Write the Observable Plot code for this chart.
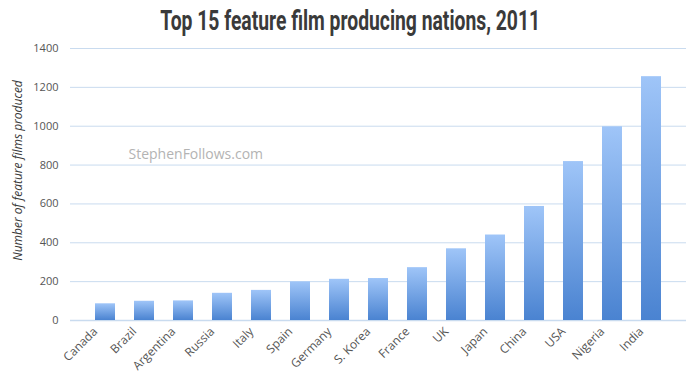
<!DOCTYPE html>
<html>
<head>
<meta charset="utf-8">
<script src="https://cdn.jsdelivr.net/npm/d3@7"></script>
<script src="https://cdn.jsdelivr.net/npm/@observablehq/plot@0.6"></script>
<style>
  html, body { margin: 0; padding: 0; background: #fff; }
  #wrap { width: 700px; height: 382px; overflow: hidden; }
  #title { height: 40px; line-height: 42px; text-align: center; color: #3a3a3a; }
  #title span { display: inline-block; font-family: "Liberation Sans Narrow", "Roboto", sans-serif; font-weight: bold; font-size: 28px; transform: scaleX(0.69); transform-origin: center; white-space: nowrap; }
</style>
</head>
<body>
<div id="wrap">
  <div id="title"><span>Top 15 feature film producing nations, 2011</span></div>
  <div id="chart"></div>
</div>
<script>
const countries = ["Canada","Brazil","Argentina","Russia","Italy","Spain","Germany","S. Korea","France","UK","Japan","China","USA","Nigeria","India"];
const films = [86, 99, 101, 140, 155, 199, 212, 216, 272, 369, 440, 587, 818, 997, 1255];
const yTicks = [0, 200, 400, 600, 800, 1000, 1200, 1400];
const yLabel = "Number of feature films produced";
const watermark = "StephenFollows.com";

const data = countries.map((c, i) => ({country: c, value: films[i]}));

const chart = Plot.plot({
  width: 700,
  height: 342,
  marginTop: 8,
  marginBottom: 62,
  marginLeft: 70,
  marginRight: 14,
  style: {fontFamily: "'Open Sans', sans-serif", fontSize: "11px", color: "#555", background: "#fff", overflow: "visible"},
  x: {domain: countries, padding: 0.5, label: null},
  y: {domain: [0, 1400], label: null},
  marks: [
    Plot.gridY(yTicks, {stroke: "#c9dbef", strokeOpacity: 1, strokeWidth: 1}),
    Plot.ruleY([0], {stroke: "#c9dbef", strokeWidth: 1.5}),
    Plot.barY(data, {x: "country", y: "value", fill: "url(#barGrad)"}),
    Plot.axisY({ticks: yTicks, tickSize: 0, tickPadding: 12, tickFormat: d3.format("d"), label: null, fontSize: 11, fill: "#555"}),
    Plot.axisX({tickSize: 0, tickRotate: -45, tickPadding: 4, dx: -10, dy: 5, label: null, fontSize: 12, fill: "#555"}),
    Plot.text([watermark], {frameAnchor: "top-left", dx: 58, dy: 101, text: d => d, fill: "#b3b3b3", fontSize: 14, textAnchor: "start"}),
    Plot.text([yLabel], {frameAnchor: "top-left", dx: -57, dy: 122, text: d => d, rotate: -90, textAnchor: "middle", fontStyle: "italic", fontSize: 12, fill: "#3a3a3a"})
  ]
});

const svg = d3.select(chart);
const defs = svg.insert("defs", ":first-child");
const grad = defs.append("linearGradient").attr("id", "barGrad").attr("x1", 0).attr("y1", 0).attr("x2", 0).attr("y2", 1);
grad.append("stop").attr("offset", "0%").attr("stop-color", "#9fc5f8");
grad.append("stop").attr("offset", "100%").attr("stop-color", "#4a83d1");

document.getElementById("chart").appendChild(chart);
</script>
</body>
</html>
